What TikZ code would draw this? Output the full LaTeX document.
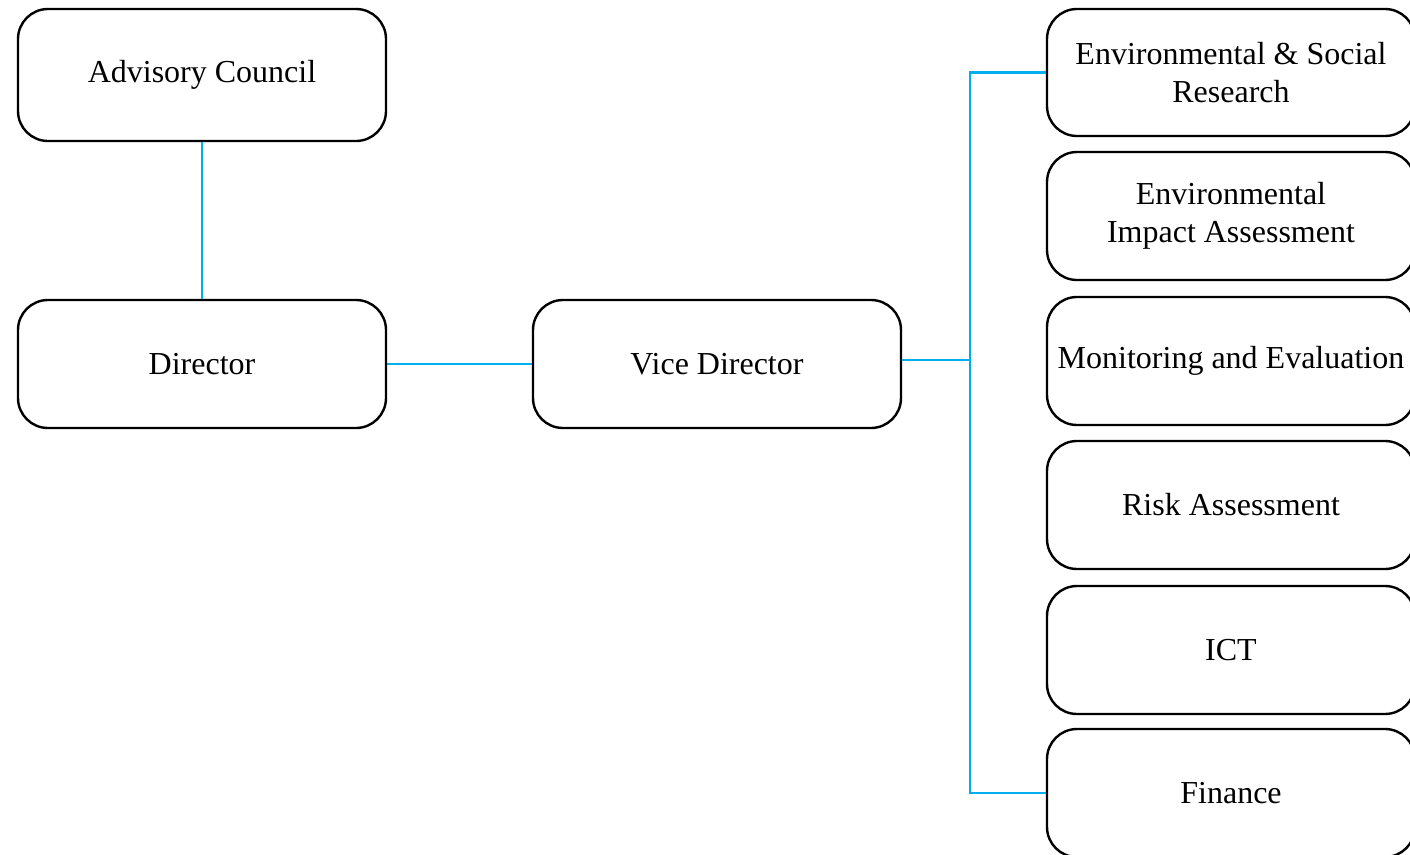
\documentclass[tikz,border=0pt]{standalone}
\usepackage{fontspec}
\setmainfont{Liberation Serif}
\begin{document}
\begin{tikzpicture}[x=1pt,y=-1pt,
  box/.style={draw=black,line width=2.4pt,rounded corners=30pt,minimum width=368pt,align=center,font=\fontsize{32}{38}\selectfont,inner sep=0pt},
  link/.style={draw={rgb,255:red,0;green,174;blue,239},line width=2.6pt}]
\useasboundingbox (0,0) rectangle (1410,854);
\node[box,minimum height=132pt] (adv) at (202,75) {\raisebox{-3pt}{Advisory Council}};
\node[box,minimum height=128pt] (dir) at (202,364) {Director};
\node[box,minimum height=128pt] (vice) at (717,364) {Vice Director};
\node[box,minimum height=127pt] (r1) at (1231,72.5) {Environmental \& Social\\Research};
\node[box,minimum height=128pt] (r2) at (1231,216) {Environmental\\Impact Assessment};
\node[box,minimum height=128pt] (r3) at (1231,361) {Monitoring and Evaluation};
\node[box,minimum height=128pt] (r4) at (1231,505) {Risk Assessment};
\node[box,minimum height=128pt] (r5) at (1231,650) {ICT};
\node[box,minimum height=128pt] (r6) at (1231,793) {Finance};
\coordinate (busx) at (970,0);
\coordinate (vo) at ([yshift=4pt]vice.east);
\draw[link] (adv.south) -- (dir.north);
\draw[link] (dir.east) -- (vice.west);
\draw[link] (vo) -- (vo -| busx);
\draw[link] (r1.west) -- (r1.west -| busx) -- (r6.west -| busx) -- (r6.west);
\end{tikzpicture}
\end{document}
